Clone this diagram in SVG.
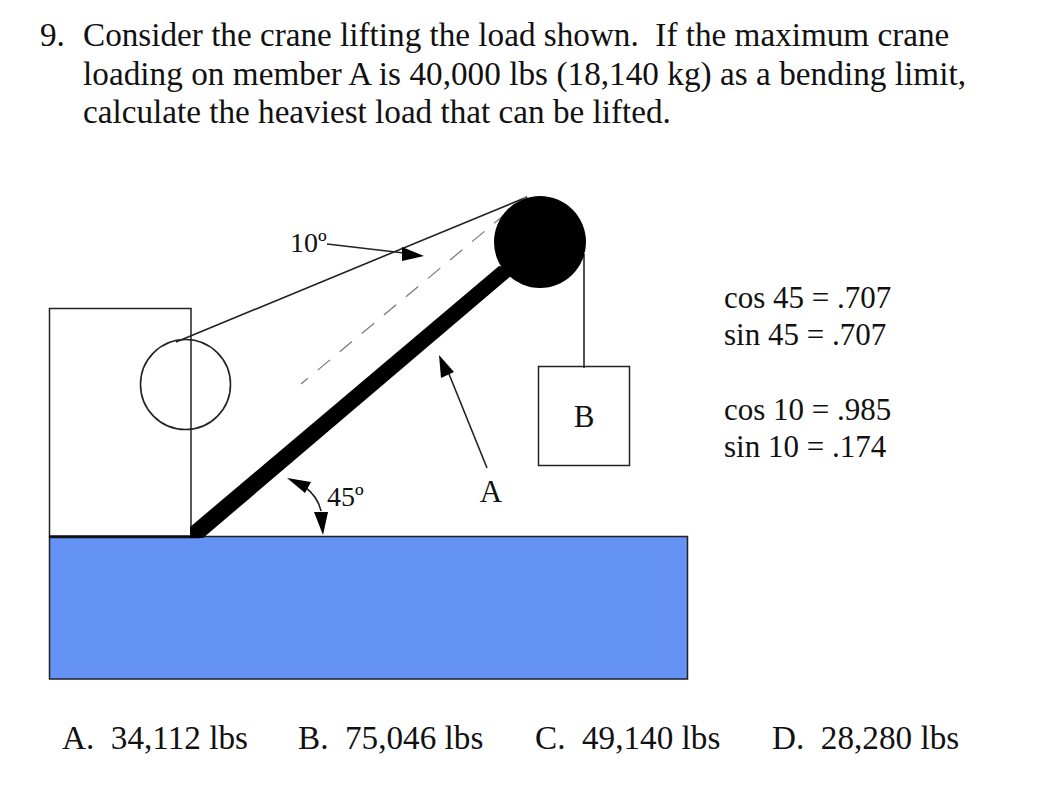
<svg xmlns="http://www.w3.org/2000/svg" width="1054" height="786" viewBox="0 0 1054 786">
<style>
text{font-family:"Liberation Serif","Times New Roman",serif;fill:#111;white-space:pre}
.h{font-size:33.2px}
.m{font-size:31px}
.s{font-size:28px}
.o{fill:none;stroke:#222;stroke-width:1.6}
.f{fill:#000;stroke:none}
</style>
<rect width="1054" height="786" fill="#fff"/>
<g id="question">
<text class="h" x="40" y="46">9.</text>
<text class="h" x="83" y="46">Consider the crane lifting the load shown.  If the maximum crane</text>
<text class="h" x="83" y="85" textLength="883">loading on member A is 40,000 lbs (18,140 kg) as a bending limit,</text>
<text class="h" x="83" y="123">calculate the heaviest load that can be lifted.</text>
</g>
<g id="ground"><rect x="49.500" y="536.500" width="638" height="142.500" fill="#6592f5" stroke="#222" stroke-width="1.500"/></g>
<g id="cab">
<rect x="49.500" y="308.500" width="141.500" height="227.500" fill="#fff" stroke="#222" stroke-width="1.500"/>
<line x1="49" y1="537" x2="200" y2="537" stroke="#111" stroke-width="2.500"/>
<circle cx="185.500" cy="384.500" r="45" class="o"/>
</g>
<g id="load">
<rect x="538.500" y="366.500" width="91" height="99" fill="#fff" stroke="#222" stroke-width="1.500"/>
<text class="m" x="584" y="427" text-anchor="middle">B</text>
</g>
<g id="connectors">
<line x1="176" y1="342" x2="527" y2="197" class="o"/>
<line x1="584" y1="254" x2="584" y2="368" class="o"/>
<line x1="301" y1="384" x2="527" y2="196" fill="none" stroke="#777" stroke-width="1.200" stroke-dasharray="16 12.700" stroke-dashoffset="7"/>
<line x1="327" y1="244" x2="404" y2="253" class="o"/>
<path class="f" d="M424 256L402 247L402 261Z"/>
<line x1="487" y1="468" x2="449" y2="374" class="o"/>
<path class="f" d="M439 355L441 378L454 372Z"/>
<path class="o" d="M305 487Q318 497 321 511"/>
<path class="f" d="M287 478L305 493L311 482Z"/>
<path class="f" d="M323 535L314 512L328 512Z"/>
</g>
<g id="boom">
<path class="f" d="M190 527L499 266L518 270L203 538L190 538Z"/>
<circle cx="540" cy="242" r="46" fill="#000"/>
</g>
<g id="labels">
<text class="s" x="290" y="252">10º</text>
<text class="s" x="327" y="506">45º</text>
<text class="m" x="491" y="502" text-anchor="middle">A</text>
<text class="m" x="724" y="308">cos 45 = .707</text>
<text class="m" x="724" y="345">sin 45 = .707</text>
<text class="m" x="724" y="420">cos 10 = .985</text>
<text class="m" x="724" y="457">sin 10 = .174</text>
</g>
<g id="answers">
<text class="h" x="62" y="749">A.  34,112 lbs</text>
<text class="h" x="298" y="749">B.  75,046 lbs</text>
<text class="h" x="535" y="749">C.  49,140 lbs</text>
<text class="h" x="772" y="749">D.  28,280 lbs</text>
</g>
</svg>
